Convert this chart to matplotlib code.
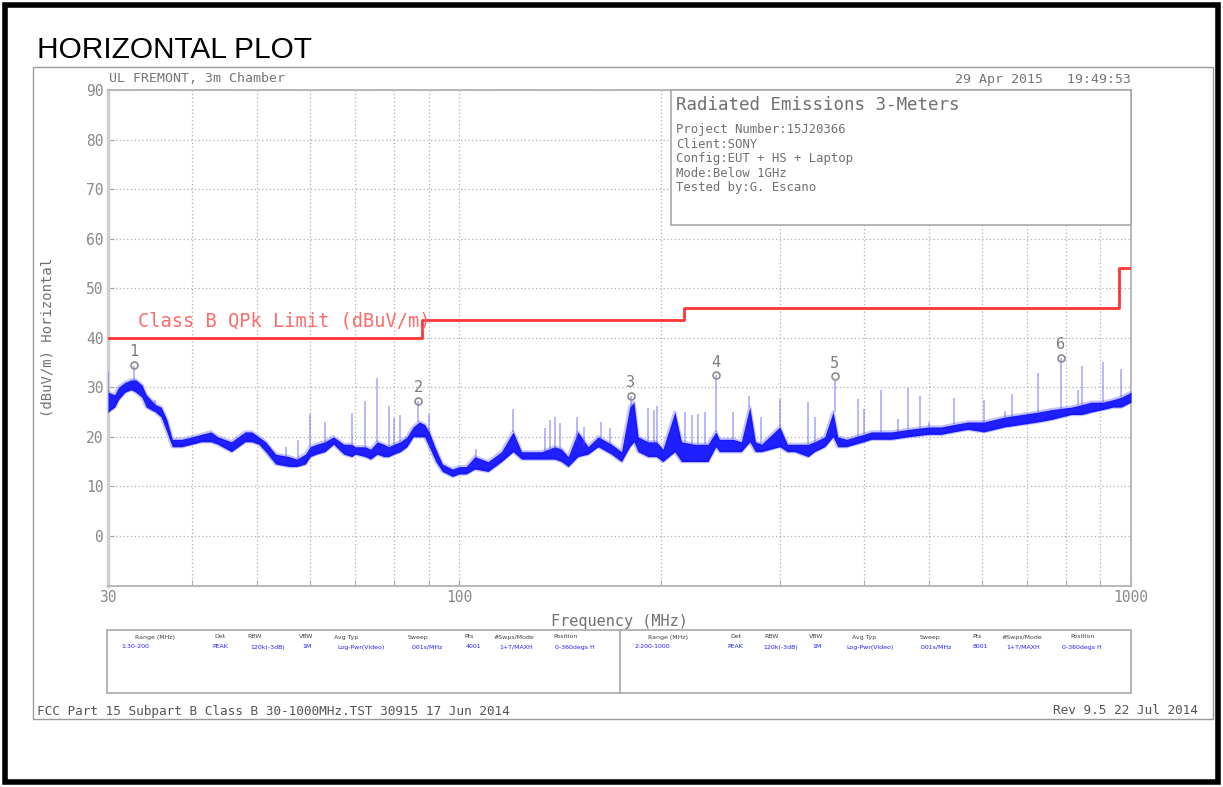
import numpy as np
import matplotlib.pyplot as plt
from matplotlib.patches import Rectangle
from matplotlib.lines import Line2D
from matplotlib.ticker import FixedLocator, FixedFormatter, NullFormatter

W, H = 1223, 787
MONO = "DejaVu Sans Mono"

freq_mhz = [30.0, 30.7, 31.1, 31.8, 32.5, 33.0, 33.7, 34.2, 35.3, 36.0,
            36.7, 37.4, 38.6, 40.0, 41.3, 42.7, 43.7, 45.8, 48.0, 49.1,
            50.3, 51.5, 53.3, 55.9, 57.3, 59.0, 60.0, 61.3, 63.1, 65.0,
            67.3, 69.2, 70.0, 72.5, 73.8, 75.5, 77.2, 78.5, 79.9, 81.7,
            83.6, 85.4, 87.2, 88.8, 90.2, 92.3, 94.4, 97.7, 100.0, 102.4,
            105.5, 110.4, 115.6, 120.3, 123.8, 132.6, 138.8, 142.0, 145.3, 150.2,
            155.5, 161.0, 168.5, 174.4, 179.4, 182.0, 184.6, 191.0, 196.6, 201.0,
            209.4, 214.2, 224.0, 234.6, 241.0, 244.0, 255.7, 263.0, 270.7, 276.0,
            281.8, 300.0, 308.0, 316.0, 330.6, 338.0, 350.0, 360.2, 366.0, 377.0,
            400.0, 410.7, 423.7, 439.9, 465.7, 500.0, 522.0, 545.0, 571.9, 604.0,
            648.6, 686.8, 727.0, 761.0, 815.0, 845.0, 873.0, 908.0, 940.0, 967.0,
            1000.0]
trace_lo = [25, 26, 27.5, 29, 29.5, 29, 28, 26, 25, 24,
            21, 18, 18, 18.5, 19, 19, 18.5, 17, 19, 19,
            18.5, 17, 14.5, 14, 14, 14.5, 16, 16.5, 17, 18.5,
            16.5, 16, 16.5, 16, 15.5, 16.5, 16, 16, 16.5, 17,
            18, 20, 20, 20, 18, 15, 13, 12, 12.5, 12.5,
            13.5, 13, 15, 17, 15.5, 15.5, 15.5, 15, 14, 16,
            16.5, 18, 16.5, 15, 18, 19, 17, 16, 16, 15,
            17, 15, 15, 15, 18, 17, 17, 17, 19, 17,
            17, 18, 17, 17, 16, 17, 18, 20, 18, 18,
            19, 19.5, 19.5, 19.5, 20, 20.5, 20.5, 21, 21.5, 21,
            22, 22.5, 23, 23.5, 24.5, 24.5, 25, 25.5, 26, 26,
            27]
trace_hi = [29, 28.5, 30, 31, 31.5, 31.5, 30.5, 28.5, 26.5, 26,
            23.5, 19.5, 19.5, 20, 20.5, 21, 20, 19, 21, 21,
            20, 19, 16.5, 16, 15.5, 16.5, 18, 18.5, 19, 20,
            18.5, 18.5, 18, 18, 17.5, 19, 18.5, 18, 18.5, 19,
            20, 22, 23, 22.5, 21, 17.5, 14.5, 13.5, 14, 14,
            16, 15, 17, 21, 17, 17, 18, 17.5, 16, 21,
            18, 20, 18.5, 17, 26, 27, 20, 19, 19, 17.5,
            25, 19, 18.5, 18.5, 21, 19.5, 19.5, 19, 26, 19,
            18.5, 22, 18.5, 18.5, 18.5, 19, 20, 25, 20, 19.5,
            20.5, 21, 21, 21, 21.5, 22, 22, 22.5, 23, 23,
            24, 24.5, 25, 25.5, 26, 26.5, 27, 27, 27.5, 28,
            29]

# narrow single-frequency spikes above the band
spike_freq = [30.0, 32.8, 35.3, 55.3, 57.5, 60.0, 63.1, 69.2, 72.5, 75.5,
              78.5, 79.9, 81.7, 86.8, 90.2, 106.0, 120.3, 134.1, 136.4, 138.8,
              141.2, 149.6, 153.6, 162.8, 167.6, 180.0, 191.0, 194.8, 197.3, 216.6,
              221.7, 226.7, 232.0, 241.0, 255.7, 270.0, 281.8, 300.0, 331.0, 338.0,
              362.0, 392.0, 400.0, 424.0, 450.0, 466.0, 485.0, 500.0, 545.0, 604.0,
              649.0, 665.0, 727.0, 786.0, 834.0, 845.0, 908.0, 967.0]
spike_base = [29, 31.5, 26.5, 16, 15.5, 18, 19, 18.5, 18, 19,
              18, 18.5, 19, 23, 21, 16, 21, 17, 17, 17.5,
              17.5, 19, 18, 19.5, 18.5, 26, 19, 19, 19, 19,
              18.5, 18.5, 18.5, 21, 19.5, 26, 18.5, 22, 18.5, 19,
              25, 20, 20.5, 21, 21, 21.5, 21.5, 22, 22.5, 23,
              24, 24, 25, 25.5, 26.5, 26.5, 27, 28]
spike_top = [33, 34.3, 27.5, 18, 19.4, 24.7, 22.9, 24.9, 27.3, 31.8,
             26.3, 23.9, 24.5, 27.3, 24.7, 17.5, 25.7, 21.8, 23.4, 24,
             22.8, 24, 22, 23, 21.8, 28.3, 25.8, 25.4, 26.3, 25,
             24.5, 24.7, 25, 32.4, 25, 28.3, 24.1, 27.7, 27, 24,
             31.7, 27.7, 25.7, 29.5, 23.7, 29.8, 28.3, 23, 27.8, 27.5,
             25.2, 28.7, 32.8, 36, 29.4, 34.3, 35.1, 33.7]

limit_freq = [30, 88, 216, 960, 1000]
limit_db = [40, 43.5, 46, 54, 54]

marker_freq = [32.8, 86.8, 180, 241, 362, 786]
marker_db = [34.6, 27.3, 28.3, 32.4, 32.2, 36.0]
marker_num = ["1", "2", "3", "4", "5", "6"]

info_lines = ["Project Number:15J20366", "Client:SONY", "Config:EUT + HS + Laptop",
              "Mode:Below 1GHz", "Tested by:G. Escano"]

set_head = ["Range (MHz)", "Det", "RBW", "VBW", "Avg Typ", "Sweep", "Pts",
            "#Swps/Mode", "Position"]
set_row1 = ["1:30-200", "PEAK", "120k(-3dB)", "1M", "Log-Pwr(Video)", ".001s/MHz",
            "4001", "1+T/MAXH", "0-360degs H"]
set_row2 = ["2:200-1000", "PEAK", "120k(-3dB)", "1M", "Log-Pwr(Video)", ".001s/MHz",
            "8001", "1+T/MAXH", "0-360degs H"]


def fx(x):
    return x / W


def fy(y):
    return 1 - y / H


fig = plt.figure(figsize=(W / 100, H / 100), dpi=100)
ax = fig.add_axes([fx(108), fy(585.5), (1131 - 108) / W, (585.5 - 90) / H])

ax.set_xscale("log")
ax.set_xlim(30, 1000)
ax.set_ylim(-10, 90)
ax.xaxis.set_major_locator(FixedLocator([30, 100, 1000]))
ax.xaxis.set_major_formatter(FixedFormatter(["30", "100", "1000"]))
ax.xaxis.set_minor_locator(FixedLocator([40, 50, 60, 70, 80, 90,
                                         200, 300, 400, 500, 600, 700, 800, 900]))
ax.xaxis.set_minor_formatter(NullFormatter())
ax.set_yticks(range(0, 91, 10))
ax.grid(which="both", axis="x", ls=(0, (1, 2)), color="#b0b0b0", lw=0.9)
ax.grid(which="major", axis="y", ls=(0, (1, 2)), color="#b0b0b0", lw=0.9)
ax.tick_params(which="both", direction="in", length=4, color="#a0a0a0",
               labelsize=10.5, labelcolor="#888888", pad=3)
for lab in ax.get_xticklabels() + ax.get_yticklabels():
    lab.set_family(MONO)
for sp in ax.spines.values():
    sp.set_color("#b8b8b8")
    sp.set_linewidth(1.4)
ax.spines["left"].set_linewidth(2.5)
ax.spines["left"].set_color("#cfcfcf")

# trace: light fringe, solid core, then the narrow spikes
ax.plot(freq_mhz, trace_hi, color="#5a5aff", lw=2.4, alpha=0.35, zorder=3)
ax.plot(freq_mhz, trace_lo, color="#5a5aff", lw=2.4, alpha=0.35, zorder=3)
ax.fill_between(freq_mhz, trace_lo, trace_hi, color="#0000ff", lw=0, alpha=0.88, zorder=3)
ax.vlines(spike_freq, spike_base, spike_top, colors="#4a4aff", lw=1.1, alpha=0.5, zorder=3)

# limit line
ax.step(limit_freq, limit_db, where="post", color="#ff3535", lw=2.0, zorder=4)
ax.text(33.3, 43.4, "Class B QPk Limit (dBuV/m)", family=MONO, fontsize=13.4,
        color="#ff6a6a", ha="left", va="center", zorder=4)

# markers
ax.plot(marker_freq, marker_db, ls="none", marker="o", ms=5, mfc="none",
        mec="#8c8c8c", mew=1.2, zorder=6)
for f, d, n in zip(marker_freq, marker_db, marker_num):
    ax.annotate(n, (f, d), xytext=(0, 4), textcoords="offset points", ha="center",
                va="bottom", fontsize=11, family=MONO, color="#7c7c7c", zorder=6)

ax.set_xlabel("Frequency (MHz)", family=MONO, fontsize=11, color="#707070")
ax.xaxis.set_label_coords(0.5, -0.058)
ax.set_ylabel("(dBuV/m) Horizontal", family=MONO, fontsize=10, color="#707070")
ax.yaxis.set_label_coords(-0.052, 0.5)

# header texts
fig.text(fx(37), fy(50), "HORIZONTAL PLOT", family="Liberation Sans", fontsize=21.5,
         color="black", ha="left", va="center")
fig.text(fx(109), fy(79), "UL FREMONT, 3m Chamber", family=MONO, fontsize=9.5,
         color="#757575", ha="left", va="center")
fig.text(fx(1131), fy(79), "29 Apr 2015   19:49:53", family=MONO, fontsize=9.5,
         color="#757575", ha="right", va="center")

# info box
fig.add_artist(Rectangle((fx(671), fy(225)), (1131 - 671) / W, (225 - 90) / H,
                         transform=fig.transFigure, facecolor="white",
                         edgecolor="#a8a8a8", lw=1.2, zorder=5))
fig.text(fx(676), fy(105), "Radiated Emissions 3-Meters", family=MONO, fontsize=12.6,
         color="#707070", ha="left", va="center", zorder=6)
for i, line in enumerate(info_lines):
    fig.text(fx(676), fy(130 + i * 14.4), line, family=MONO, fontsize=8.8,
             color="#707070", ha="left", va="center", zorder=6)

# analyser settings box
fig.add_artist(Rectangle((fx(107), fy(693)), (1131 - 107) / W, (693 - 630) / H,
                         transform=fig.transFigure, facecolor="white",
                         edgecolor="#a8a8a8", lw=1.2, zorder=5))
fig.add_artist(Line2D([fx(620), fx(620)], [fy(630), fy(693)], color="#a8a8a8",
                      lw=1.2, zorder=5))
head_x1 = [155, 220, 255, 306, 346, 418, 469, 514, 566]
row_x1 = [135, 220, 268, 307, 361, 427, 473, 516, 575]
head_x2 = [668, 736, 772, 816, 864, 930, 977, 1022, 1083]
row_x2 = [652, 735, 781, 817, 870, 936, 980, 1023, 1082]
for hx, rx, h, v in zip(head_x1, row_x1, set_head, set_row1):
    fig.text(fx(hx), fy(637), h, fontsize=4.5, color="#404040", ha="center", va="center", zorder=6)
    fig.text(fx(rx), fy(647), v, fontsize=4.5, color="#2020ff", ha="center", va="center", zorder=6)
for hx, rx, h, v in zip(head_x2, row_x2, set_head, set_row2):
    fig.text(fx(hx), fy(637), h, fontsize=4.5, color="#404040", ha="center", va="center", zorder=6)
    fig.text(fx(rx), fy(647), v, fontsize=4.5, color="#2020ff", ha="center", va="center", zorder=6)

# footer
fig.text(fx(37), fy(711), "FCC Part 15 Subpart B Class B 30-1000MHz.TST 30915 17 Jun 2014",
         family=MONO, fontsize=9.2, color="#555555", ha="left", va="center")
fig.text(fx(1198), fy(711), "Rev 9.5 22 Jul 2014", family=MONO, fontsize=9.2,
         color="#555555", ha="right", va="center")

# frames
fig.add_artist(Rectangle((fx(33), fy(719)), (1213 - 33) / W, (719 - 67) / H,
                         transform=fig.transFigure, fill=False,
                         edgecolor="#9a9a9a", lw=1.0))
fig.add_artist(Rectangle((fx(5), fy(782)), (1218 - 5) / W, (782 - 5) / H,
                         transform=fig.transFigure, fill=False,
                         edgecolor="black", lw=4))

fig.savefig("out.png", dpi=100)
